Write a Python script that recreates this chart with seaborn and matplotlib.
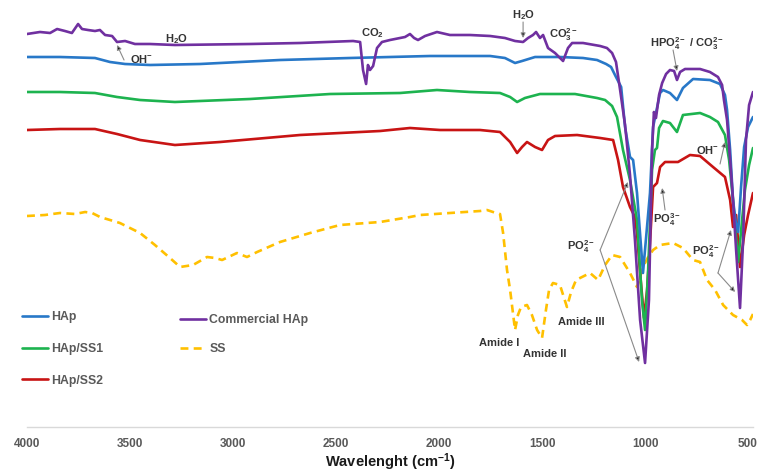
import matplotlib
matplotlib.use("Agg")
import matplotlib.pyplot as plt
import pandas as pd
import seaborn as sns

# FTIR spectra: wavenumber (cm-1) and offset transmittance (a.u.)
hap_wn = [4000, 3840, 3670, 3597, 3524, 3403, 3160, 2772, 2432, 2044, 1752, 1680,
          1631, 1597, 1534, 1413, 1301, 1233, 1189, 1165, 1141, 1116, 1097, 1073,
          1058, 1039, 1010, 976, 961, 927, 913, 879, 845, 816, 767, 685, 636, 612,
          602, 587, 573, 560, 548, 534, 519, 500, 476]
hap_t = [370, 370, 369, 365, 363, 362, 363, 367, 369, 371, 371, 369,
         364, 366, 370, 370, 369, 367, 363, 360, 350, 340, 300, 270,
         267, 234, 154, 234, 300, 334, 337, 334, 327, 339, 348, 347, 343, 332,
         317, 277, 227, 205, 195, 240, 280, 300, 310]

ss1_wn = [4000, 3840, 3670, 3563, 3451, 3282, 2917, 2529, 2189, 2010, 1850, 1704,
          1655, 1621, 1583, 1510, 1340, 1233, 1194, 1160, 1136, 1107, 1073, 1039,
          1015, 1000, 985, 966, 952, 942, 932, 913, 879, 845, 816, 733, 685, 646,
          612, 592, 573, 548, 529, 515, 495, 476]
ss1_t = [335, 335, 334, 330, 327, 325, 328, 333, 334, 337, 335, 334,
         330, 325, 329, 333, 333, 329, 327, 321, 310, 277, 247, 207,
         127, 97, 157, 257, 277, 279, 299, 306, 304, 295, 312, 314, 310, 305,
         292, 267, 227, 165, 207, 237, 262, 279]

ss2_wn = [4000, 3840, 3670, 3563, 3451, 3282, 3063, 2675, 2286, 2141, 1995, 1801,
          1704, 1655, 1621, 1597, 1573, 1534, 1500, 1471, 1437, 1330, 1218, 1155,
          1131, 1107, 1073, 1049, 1039, 1024, 1005, 990, 976, 961, 942, 927, 903,
          840, 782, 733, 670, 612, 587, 573, 558, 539, 519, 500, 476]
ss2_t = [297, 298, 298, 293, 287, 282, 285, 292, 296, 299, 297, 297,
         295, 285, 274, 280, 285, 280, 277, 287, 291, 292, 289, 287,
         267, 240, 220, 210, 194, 154, 109, 137, 184, 240, 244, 260, 265,
         265, 272, 271, 260, 250, 227, 200, 212, 160, 192, 212, 234]

com_wn = [4000, 3937, 3888, 3854, 3816, 3782, 3752, 3733, 3704, 3670, 3646, 3621,
          3587, 3563, 3524, 3476, 3403, 3282, 2917, 2675, 2417, 2383, 2369, 2354,
          2345, 2335, 2320, 2301, 2277, 2238, 2165, 2141, 2121, 2102, 2068, 2010,
          1947, 1850, 1752, 1680, 1631, 1592, 1568, 1544, 1529, 1510, 1495, 1471,
          1437, 1398, 1374, 1354, 1301, 1218, 1185, 1160, 1141, 1121, 1097, 1073,
          1049, 1024, 1000, 981, 966, 957, 947, 932, 917, 898, 879, 859,
          845, 830, 806, 733, 685, 646, 626, 617, 602, 587, 573, 558,
          539, 524, 510, 495, 476]
com_t = [393, 395, 394, 398, 396, 394, 403, 398, 397, 396, 397, 392,
         391, 385, 386, 383, 383, 382, 383, 384, 386, 385, 357, 343,
         362, 357, 361, 379, 385, 387, 390, 393, 389, 387, 391, 395,
         392, 392, 391, 389, 386, 385, 389, 392, 395, 389, 392, 379,
         374, 366, 379, 384, 384, 381, 379, 374, 365, 337, 302, 252,
         187, 107, 64, 127, 277, 315, 309, 332, 344, 353, 357, 356,
         347, 355, 358, 358, 355, 350, 342, 327, 307, 267, 227, 177,
         119, 187, 287, 322, 335]

ss_wn = [4000, 3913, 3840, 3767, 3718, 3684, 3655, 3646, 3597, 3549, 3451, 3379,
         3306, 3257, 3194, 3126, 3087, 3053, 2981, 2932, 2883, 2772, 2626, 2481,
         2286, 2141, 2092, 1947, 1801, 1767, 1738, 1704, 1689, 1670, 1655, 1631,
         1617, 1602, 1573, 1549, 1524, 1500, 1481, 1466, 1447, 1413, 1393, 1379,
         1359, 1335, 1267, 1228, 1194, 1160, 1121, 1073, 1039, 1010, 985, 961,
         927, 864, 816, 767, 733, 699, 660, 621, 573, 529, 505, 490, 476]
ss_t = [211, 212, 214, 213, 215, 214, 211, 210, 207, 204, 194, 182,
        169, 160, 162, 170, 169, 167, 174, 170, 175, 185, 194, 202,
        205, 210, 212, 214, 216, 217, 215, 213, 194, 157, 137, 97,
        112, 120, 122, 112, 97, 89, 117, 137, 144, 142, 129, 120,
        135, 147, 154, 147, 162, 172, 170, 154, 140, 160, 170, 177,
        182, 184, 179, 167, 165, 147, 137, 122, 112, 107, 102, 107, 113]

series = [
    ("HAp", hap_wn, hap_t, "#2878c8", "-"),
    ("HAp/SS1", ss1_wn, ss1_t, "#1db34f", "-"),
    ("HAp/SS2", ss2_wn, ss2_t, "#c81414", "-"),
    ("SS", ss_wn, ss_t, "#ffc000", (0, (3, 2))),
    ("Commercial HAp", com_wn, com_t, "#7030a0", "-"),
]
draw_order = ["SS", "HAp/SS2", "HAp/SS1", "HAp", "Commercial HAp"]

sns.set_theme(style="white")
plt.rcParams["font.family"] = ["Liberation Sans", "DejaVu Sans"]
plt.rcParams["font.weight"] = "bold"
plt.rcParams["mathtext.fontset"] = "custom"
for key in ("rm", "it", "bf", "sf"):
    plt.rcParams[f"mathtext.{key}"] = "Liberation Sans:bold"

W, H = 763, 475
fig = plt.figure(figsize=(W / 100, H / 100), dpi=100)
ax = fig.add_axes([27 / W, 48 / H, 726 / W, 427 / H])

by_name = {s[0]: s for s in series}
for name in draw_order:
    _, wn, t, col, ls = by_name[name]
    df = pd.DataFrame({"wn": wn, "t": t})
    sns.lineplot(data=df, x="wn", y="t", ax=ax, color=col, linewidth=1.9,
                 linestyle=ls, estimator=None, sort=False, label=name)
h, l = ax.get_legend_handles_labels()
handles = dict(zip(l, h))
ax.get_legend().remove()

ax.set_xlim(4000, 476)
ax.set_ylim(0, 427)
ax.set_yticks([])
ax.set_ylabel("")
ticks = [4000, 3500, 3000, 2500, 2000, 1500, 1000, 500]
ax.set_xticks(ticks)
ax.set_xticklabels([str(v) for v in ticks], fontsize=8.5, fontweight="bold",
                   color="#595959")
ax.tick_params(axis="x", length=0, pad=8)
ax.set_xlabel("Wavelenght (cm$^{-1}$)", fontsize=10.5, fontweight="bold",
              color="#1a1a1a", labelpad=1)
for side in ("left", "right", "top"):
    ax.spines[side].set_visible(False)
ax.spines["bottom"].set_color("#d9d9d9")
ax.spines["bottom"].set_linewidth(1.0)
ax.set_facecolor("none")

# band assignments
txt = dict(fontsize=8, fontweight="bold", color="#333333", ha="center",
           va="center")
arrow = dict(arrowstyle="-|>", ec="#8a8a8a", fc="#111111", lw=0.8,
             mutation_scale=7, shrinkA=0, shrinkB=0)

ax.text(3272, 388, "H$_2$O", **txt)
ax.text(3442, 368, "OH$^{-}$", **txt)
ax.annotate("", xy=(3563, 382), xytext=(3529, 367), arrowprops=arrow)
ax.text(2325, 394, "CO$_2$", **txt)
ax.text(1592, 412, "H$_2$O", **txt)
ax.annotate("", xy=(1592, 389), xytext=(1592, 405), arrowprops=arrow)
ax.text(1398, 392, "CO$_3^{2-}$", **txt)
ax.text(796, 383, "HPO$_4^{2-}$ / CO$_3^{2-}$", **txt)
ax.annotate("", xy=(845, 356), xytext=(864, 377), arrowprops=arrow)
ax.text(699, 277, "OH$^{-}$", **txt)
ax.annotate("", xy=(612, 285), xytext=(636, 263), arrowprops=arrow)
ax.text(893, 207, "PO$_4^{3-}$", **txt)
ax.annotate("", xy=(917, 239), xytext=(903, 217), arrowprops=arrow)
ax.text(704, 175, "PO$_4^{2-}$", **txt)
ax.annotate("", xy=(583, 197), xytext=(646, 154), arrowprops=arrow)
ax.annotate("", xy=(563, 135), xytext=(646, 154), arrowprops=arrow)
ax.text(1311, 180, "PO$_4^{2-}$", **txt)
ax.annotate("", xy=(1083, 245), xytext=(1218, 177), arrowprops=arrow)
ax.annotate("", xy=(1029, 65), xytext=(1218, 177), arrowprops=arrow)
ax.text(1709, 84, "Amide I", **txt)
ax.text(1485, 73, "Amide II", **txt)
ax.text(1311, 105, "Amide III", **txt)

leg_kw = dict(frameon=False, loc="upper left", borderpad=0, borderaxespad=0,
              handlelength=2.1, handletextpad=0.3,
              prop={"size": 8.8, "weight": "bold"},
              bbox_transform=fig.transFigure)
leg1 = ax.legend(handles=[handles[k] for k in ("HAp", "HAp/SS1", "HAp/SS2")],
                 labels=["HAp", "HAp/SS1", "HAp/SS2"], labelspacing=1.62,
                 bbox_to_anchor=(22 / W, 1 - 311 / H), **leg_kw)
for t in leg1.get_texts():
    t.set_color("#595959")
ax.add_artist(leg1)
leg2 = ax.legend(handles=[handles[k] for k in ("Commercial HAp", "SS")],
                 labels=["Commercial HAp", "SS"], labelspacing=1.42,
                 bbox_to_anchor=(180 / W, 1 - 314 / H), **leg_kw)
for t in leg2.get_texts():
    t.set_color("#595959")

fig.savefig("out.png", dpi=100)
